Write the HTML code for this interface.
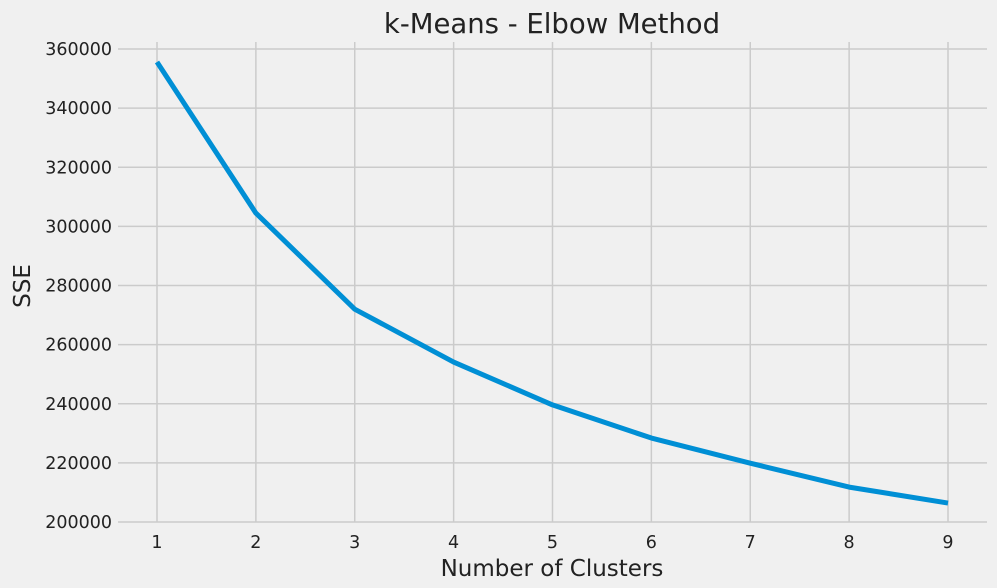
<!DOCTYPE html>
<html><head><meta charset="utf-8"><style>
html,body{margin:0;padding:0;background:#f0f0f0;}
svg{display:block;font-family:"DejaVu Sans","Liberation Sans",sans-serif;}
</style></head><body>
<svg id="chart" width="997" height="588" viewBox="0 0 997 588">
<rect width="997" height="588" fill="#f0f0f0"/>
<g id="grid"></g>
<g id="ticks"></g>
<g id="series"></g>
<text x="552" y="33" text-anchor="middle" font-size="27.5" fill="#222">k-Means - Elbow Method</text>
<text x="552" y="576" text-anchor="middle" font-size="23" fill="#222">Number of Clusters</text>
<text transform="translate(30,286) rotate(-90)" text-anchor="middle" font-size="23" fill="#222">SSE</text>
</svg>
<script>
const clusters = [1,2,3,4,5,6,7,8,9];
const sse = [355600,304500,272000,254100,239600,228400,219900,211800,206400];
const xTicks = [1,2,3,4,5,6,7,8,9];
const yTicks = [200000,220000,240000,260000,280000,300000,320000,340000,360000];
const NS="http://www.w3.org/2000/svg";
const X0=118, X1=987, Y0=42, Y1=522;
function xs(v){return 157+(v-1)*(948-157)/8;}
function ys(v){return 522-(v-200000)*(522-49)/160000;}
const grid=document.getElementById('grid'), ticks=document.getElementById('ticks'), ser=document.getElementById('series');
xTicks.forEach(t=>{
  const l=document.createElementNS(NS,'line');
  l.setAttribute('x1',xs(t));l.setAttribute('x2',xs(t));l.setAttribute('y1',Y0);l.setAttribute('y2',Y1);
  l.setAttribute('stroke','#cbcbcb');l.setAttribute('stroke-width','1.5');
  
  
  grid.appendChild(l);
  const tx=document.createElementNS(NS,'text');
  tx.setAttribute('x',xs(t));tx.setAttribute('y',548);tx.setAttribute('text-anchor','middle');
  tx.setAttribute('font-size','17.5');tx.setAttribute('fill','#222');tx.textContent=t;
  
  
  ticks.appendChild(tx);
});
yTicks.forEach(t=>{
  const l=document.createElementNS(NS,'line');
  l.setAttribute('x1',X0);l.setAttribute('x2',X1);l.setAttribute('y1',ys(t));l.setAttribute('y2',ys(t));
  l.setAttribute('stroke','#cbcbcb');l.setAttribute('stroke-width','1.5');
  
  
  grid.appendChild(l);
  const tx=document.createElementNS(NS,'text');
  tx.setAttribute('x',112);tx.setAttribute('y',ys(t)+6);tx.setAttribute('text-anchor','end');
  tx.setAttribute('font-size','17.5');tx.setAttribute('fill','#222');tx.textContent=t;
  
  
  ticks.appendChild(tx);
});
const p=document.createElementNS(NS,'polyline');
p.setAttribute('points',clusters.map((c,i)=>xs(c)+','+ys(sse[i])).join(' '));
p.setAttribute('fill','none');p.setAttribute('stroke','#008fd5');p.setAttribute('stroke-width','5');
p.setAttribute('stroke-linejoin','round');


ser.appendChild(p);
</script>
</body></html>
